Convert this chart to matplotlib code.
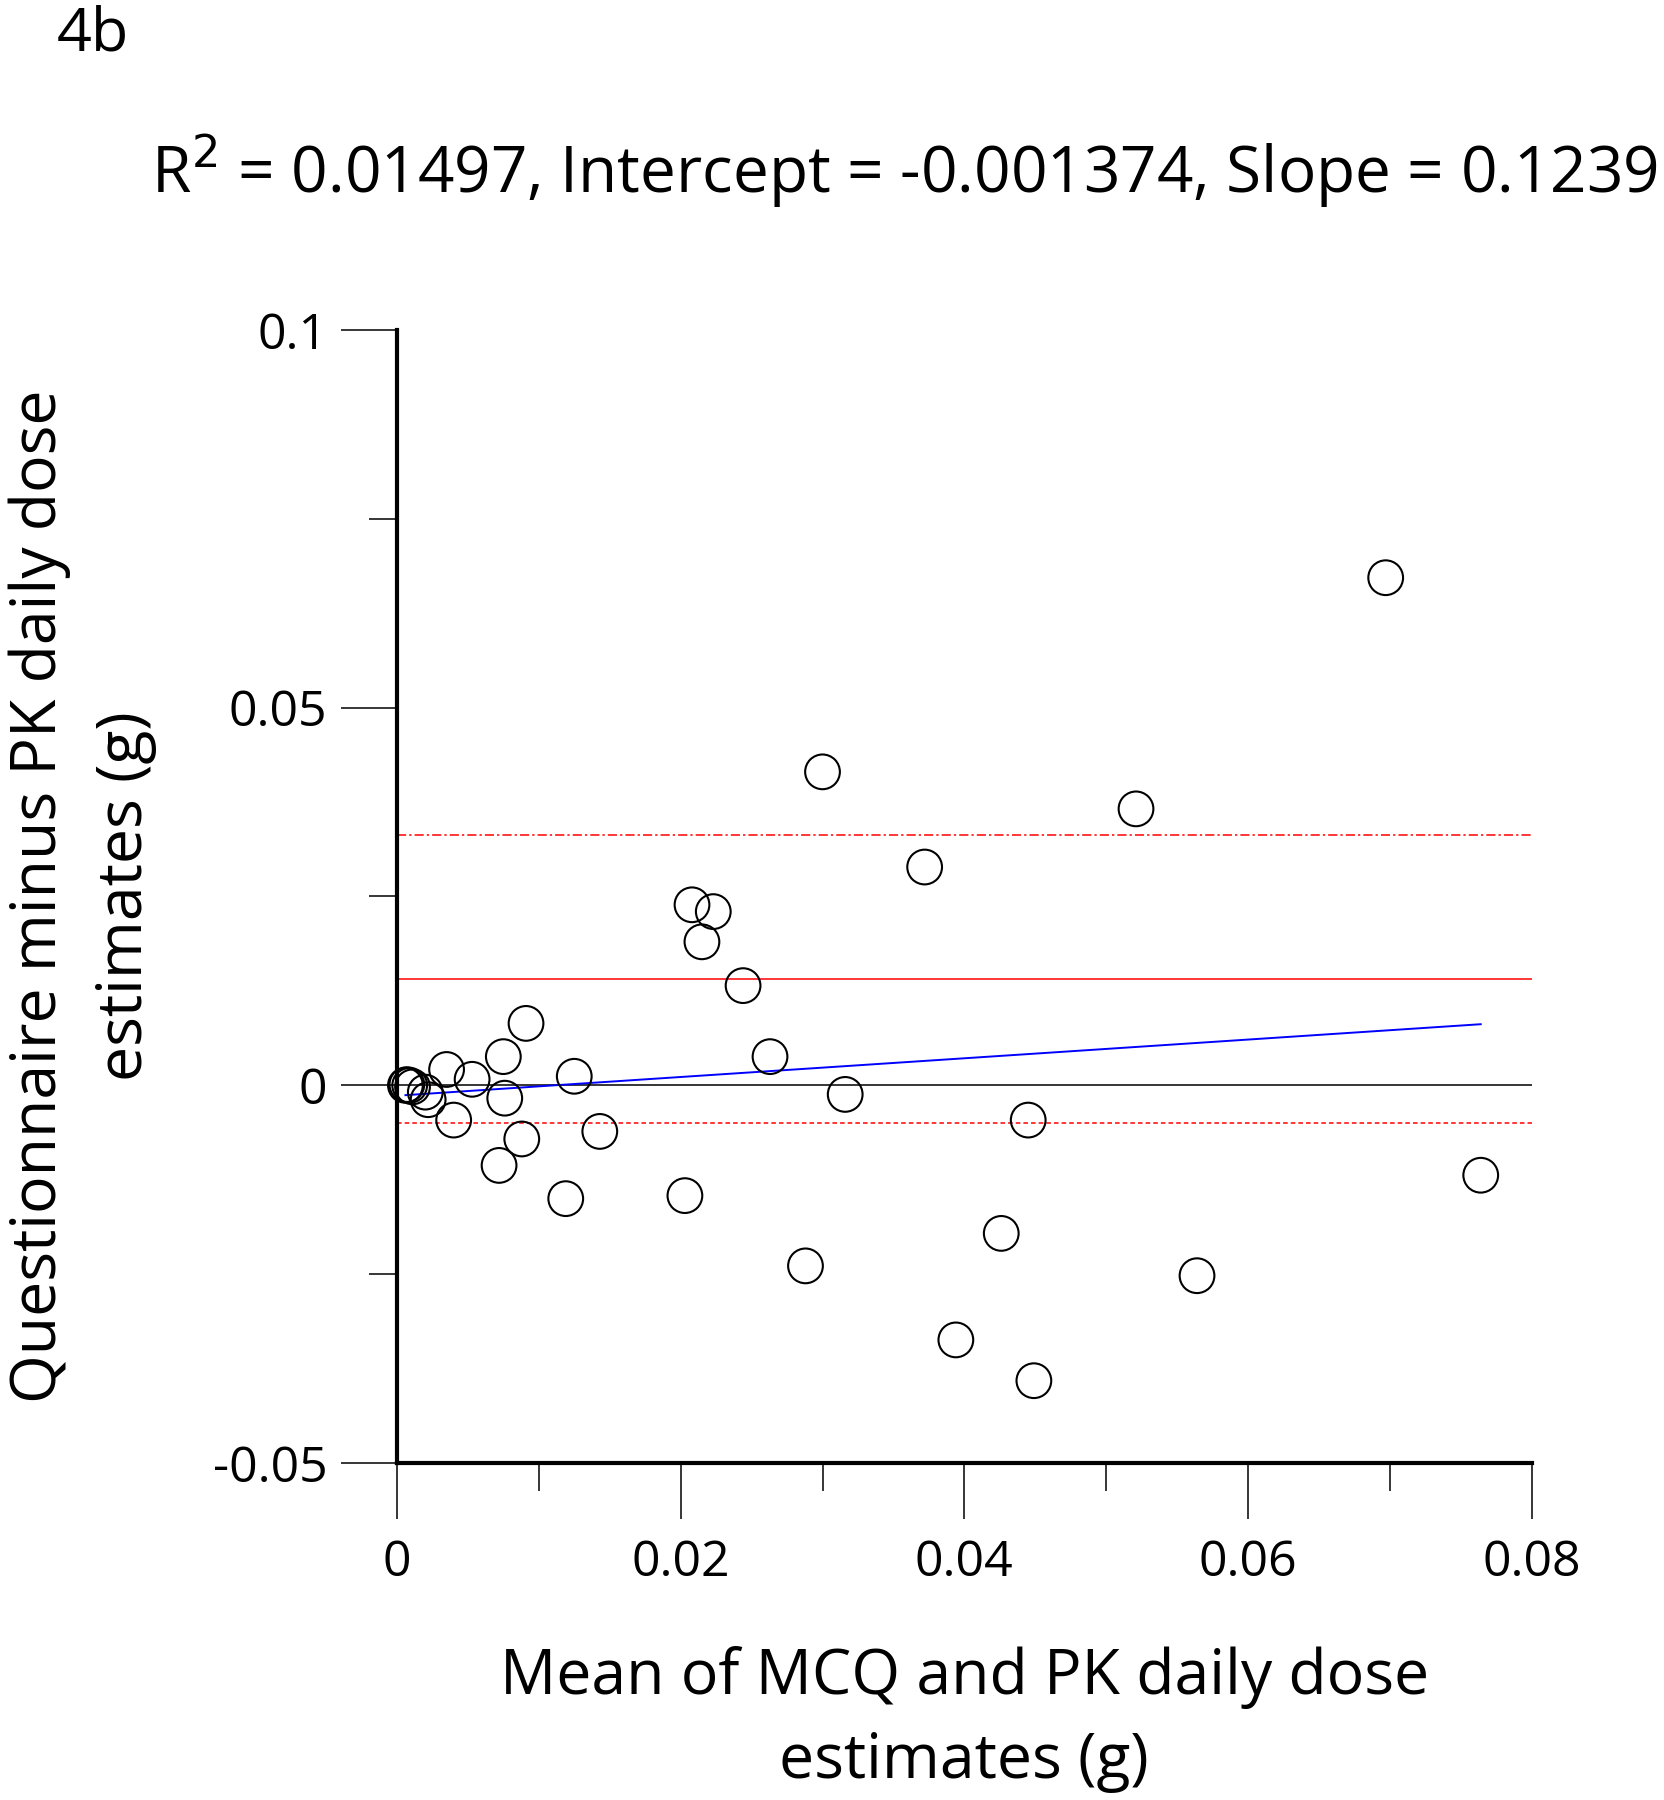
import matplotlib
matplotlib.use("Agg")
import matplotlib.pyplot as plt
from matplotlib.ticker import MultipleLocator

plt.rcParams['font.family'] = ['Open Sans', 'DejaVu Sans']

mean_x = [0.0006, 0.0007, 0.0009, 0.0011, 0.0020, 0.0022, 0.0035, 0.0040, 0.0053,
          0.0072, 0.0075, 0.0076, 0.0088, 0.0091, 0.0119, 0.0125, 0.0143, 0.0203,
          0.0208, 0.0215, 0.0223, 0.0244, 0.0263, 0.0288, 0.0300, 0.0316, 0.0372,
          0.0394, 0.0426, 0.0445, 0.0449, 0.0521, 0.0564, 0.0697, 0.0764]
diff_y = [0.0000, 0.0001, 0.0000, -0.0002, -0.0009, -0.0019, 0.0021, -0.0046, 0.0008,
          -0.0106, 0.0038, -0.0017, -0.0071, 0.0082, -0.0150, 0.0012, -0.0061, -0.0146,
          0.0239, 0.0190, 0.0230, 0.0132, 0.0038, -0.0239, 0.0415, -0.0012, 0.0289,
          -0.0337, -0.0196, -0.0046, -0.0391, 0.0366, -0.0252, 0.0672, -0.0119]

r2 = 0.01497
intercept = -0.001374
slope = 0.1239
bias = 0.0141
loa_upper = 0.0331
loa_lower = -0.0050

fig = plt.figure(figsize=(16.65, 18), dpi=100)
ax = fig.add_axes([0.2384, 0.1872, 0.6816, 0.6295])

ax.set_xlim(0, 0.08)
ax.set_ylim(-0.05, 0.1)

ax.plot([0, 0.08], [0, 0], color='black', lw=1.1, zorder=2)
ax.plot([0, 0.08], [bias, bias], color='red', lw=1.1, zorder=2)
ax.plot([0, 0.08], [loa_upper, loa_upper], color='red', lw=1.1,
        linestyle=(0, (6, 2, 1.5, 2)), zorder=2)
ax.plot([0, 0.08], [loa_lower, loa_lower], color='red', lw=1.1,
        linestyle=(0, (3, 2)), zorder=2)

xs = [min(mean_x), max(mean_x)]
ax.plot(xs, [intercept + slope * v for v in xs], color='blue', lw=1.4, zorder=3)

ax.scatter(mean_x, diff_y, s=25**2, facecolors='none', edgecolors='black',
           linewidths=1.5, zorder=4, clip_on=False)

for s in ['top', 'right']:
    ax.spines[s].set_visible(False)
for s in ['left', 'bottom']:
    ax.spines[s].set_linewidth(3.0)

ax.xaxis.set_minor_locator(MultipleLocator(0.01))
ax.yaxis.set_minor_locator(MultipleLocator(0.025))
ax.set_xticks([0, 0.02, 0.04, 0.06, 0.08])
ax.set_xticklabels(['0', '0.02', '0.04', '0.06', '0.08'])
ax.set_yticks([-0.05, 0, 0.05, 0.1])
ax.set_yticklabels(['-0.05', '0', '0.05', '0.1'])

ax.tick_params(axis='both', which='major', length=40, width=1.1, labelsize=36,
               direction='out')
ax.tick_params(axis='both', which='minor', length=20, width=1.1, direction='out')
ax.tick_params(axis='x', which='major', pad=14)
ax.tick_params(axis='y', which='major', pad=10)

ax.set_xlabel('Mean of MCQ and PK daily dose\nestimates (g)', fontsize=45,
              labelpad=42, linespacing=1.45)
ax.set_ylabel('Questionnaire minus PK daily dose\nestimates (g)', fontsize=45,
              labelpad=40, linespacing=1.5)

fig.text(0.543, 0.905, f'R$^2$ = {r2}, Intercept = {intercept}, Slope = {slope}',
         fontsize=46, ha='center', va='center')
fig.text(0.034, 0.981, '4b', fontsize=44, ha='left', va='center')

fig.savefig('out.png', dpi=100, facecolor='white')
